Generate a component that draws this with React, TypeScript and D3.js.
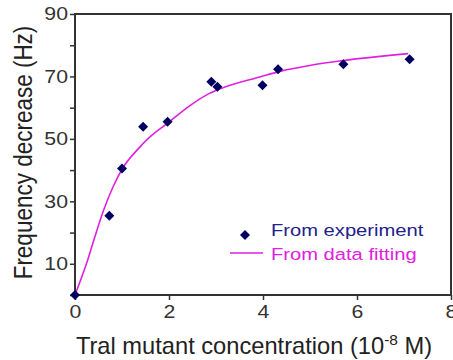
import * as d3 from 'd3';
import { useEffect, useRef } from 'react';

// experiment points (10^-8 M, Hz)
const expX = [0, 0.73, 1.0, 1.45, 1.97, 2.9, 3.03, 3.99, 4.32, 5.71, 7.12];
const expY = [0, 25.4, 40.5, 53.9, 55.5, 68.3, 66.7, 67.2, 72.3, 73.9, 75.5];

// fitted curve
const fitX = [0, 0.25, 0.43, 0.6, 0.82, 1.03, 1.32, 1.6, 1.96, 2.46, 2.85, 3.1, 3.95, 4.38, 5.02, 5.66, 7.09];
const fitY = [0, 10.3, 19.0, 26.8, 35.0, 41.0, 46.4, 50.7, 54.9, 60.8, 64.5, 66.1, 69.9, 71.7, 73.6, 75.0, 77.3];

const xTicks = [0, 2, 4, 6, 8];
const yTicks = [0, 10, 20, 30, 40, 50, 60, 70, 80, 90];
const yLabels = [10, 30, 50, 70, 90];
const legendLabels = ['From experiment', 'From data fitting'];

const W = 453;
const H = 360;
const font = 'Liberation Sans, Arial, sans-serif';

const App = () => {
  const ref = useRef<SVGSVGElement>(null);

  useEffect(() => {
    const svg = d3.select(ref.current);
    svg.selectAll('*').remove();

    const x = d3.scaleLinear().domain([0, 8]).range([75, 451]);
    const y = d3.scaleLinear().domain([0, 90]).range([295, 14]);

    // frame
    svg
      .append('rect')
      .attr('x', x(0))
      .attr('y', y(90))
      .attr('width', x(8) - x(0))
      .attr('height', y(0) - y(90))
      .attr('fill', 'none')
      .attr('stroke', '#333')
      .attr('stroke-width', 2);

    // y axis
    const yAxis = d3
      .axisLeft(y)
      .tickValues(yTicks)
      .tickSize(5)
      .tickFormat(d => (yLabels.includes(+d) ? String(d) : ''));
    const gy = svg.append('g').attr('transform', `translate(${x(0)},0)`).call(yAxis);
    gy.select('.domain').remove();
    gy.selectAll('line').attr('stroke', '#333').attr('stroke-width', 1.5);
    gy.selectAll('text')
      .attr('font-family', font)
      .attr('font-size', 18.5)
      .attr('fill', '#333')
      .attr('x', 0)
      .attr('transform', 'translate(-7,0) scale(1.15,1)');

    // x axis
    const xAxis = d3.axisBottom(x).tickValues(xTicks).tickSize(5).tickFormat(d3.format('d'));
    const gx = svg.append('g').attr('transform', `translate(0,${y(0)})`).call(xAxis);
    gx.select('.domain').remove();
    gx.selectAll('line').attr('stroke', '#333').attr('stroke-width', 1.5);
    gx.selectAll('text')
      .attr('font-family', font)
      .attr('font-size', 19)
      .attr('fill', '#333')
      .attr('y', 10)
      .attr('transform', 'scale(1.12,1)');

    // fit line
    const fit = fitX.map((v, i) => [v, fitY[i]] as [number, number]);
    const line = d3
      .line<[number, number]>()
      .x(d => x(d[0]))
      .y(d => y(d[1]))
      .curve(d3.curveMonotoneX);
    svg
      .append('path')
      .attr('d', line(fit))
      .attr('fill', 'none')
      .attr('stroke', '#e020e0')
      .attr('stroke-width', 1.6);

    // points
    const diamond = d3.symbol().type(d3.symbolSquare).size(50);
    svg
      .selectAll('path.pt')
      .data(expX.map((v, i) => [v, expY[i]]))
      .enter()
      .append('path')
      .attr('class', 'pt')
      .attr('d', diamond())
      .attr('transform', d => `translate(${x(d[0])},${y(d[1])}) rotate(45)`)
      .attr('fill', '#000060');

    // legend
    svg
      .append('path')
      .attr('d', diamond())
      .attr('transform', 'translate(245,235) rotate(45)')
      .attr('fill', '#000060');
    svg
      .append('line')
      .attr('x1', 230)
      .attr('x2', 263)
      .attr('y1', 253)
      .attr('y2', 253)
      .attr('stroke', '#e020e0')
      .attr('stroke-width', 1.6);
    svg
      .append('text')
      .attr('transform', 'translate(271,236) scale(1.2,1)')
      .attr('font-family', font)
      .attr('font-size', 16.8)
      .attr('fill', '#22228a')
      .text(legendLabels[0]);
    svg
      .append('text')
      .attr('transform', 'translate(271,260) scale(1.2,1)')
      .attr('font-family', font)
      .attr('font-size', 16.8)
      .attr('fill', '#e020e0')
      .text(legendLabels[1]);

    // axis titles
    const xt = svg
      .append('text')
      .attr('transform', 'translate(254,354) scale(1.03,1)')
      .attr('text-anchor', 'middle')
      .attr('font-family', font)
      .attr('font-size', 23)
      .attr('fill', '#222');
    xt.append('tspan').text('Tral mutant concentration (10');
    xt.append('tspan').attr('dy', -9).attr('font-size', 15).text('-8');
    xt.append('tspan').attr('dy', 9).text(' M)');

    svg
      .append('text')
      .attr('transform', 'translate(32,152.5) scale(1.12,1) rotate(-90)')
      .attr('text-anchor', 'middle')
      .attr('font-family', font)
      .attr('font-size', 22.5)
      .attr('fill', '#222')
      .text('Frequency decrease (Hz)');
  }, []);

  return (
    <svg
      ref={ref}
      width={W}
      height={H}
      style={{ position: 'absolute', left: 0, top: 0, background: '#fff' }}
    />
  );
};

export default App;
